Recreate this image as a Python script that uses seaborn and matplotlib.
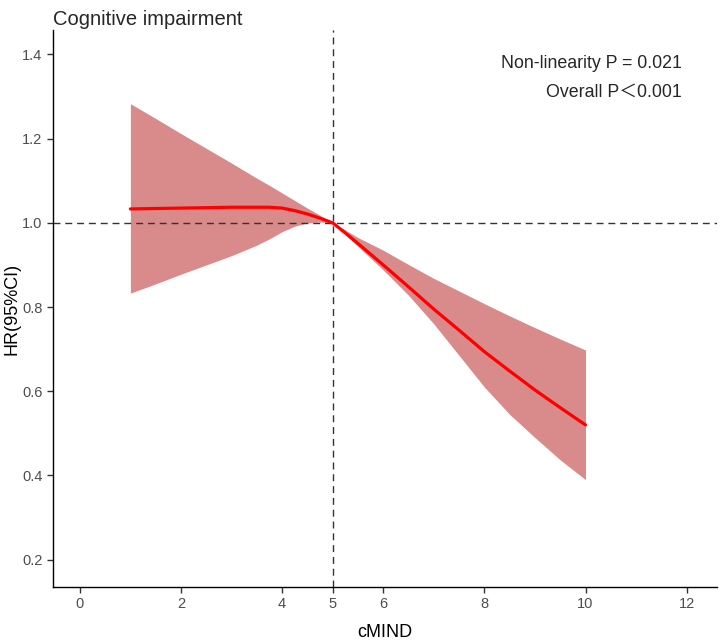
import matplotlib

matplotlib.use("Agg")

import matplotlib.pyplot as plt
import pandas as pd
import seaborn as sns

# restricted cubic spline estimate
cmind = [1.0, 1.5, 2.0, 2.5, 3.0, 3.5, 3.75, 4.0, 4.25, 4.5, 4.75, 5.0,
         5.25, 5.5, 6.0, 6.5, 7.0, 7.5, 8.0, 8.5, 9.0, 9.5, 10.0]
hr = [1.033, 1.034, 1.035, 1.036, 1.037, 1.037, 1.037, 1.035, 1.029, 1.021, 1.011, 1.0,
      0.976, 0.951, 0.9, 0.848, 0.795, 0.745, 0.694, 0.648, 0.603, 0.561, 0.52]
upper = [1.283, 1.248, 1.212, 1.177, 1.142, 1.106, 1.089, 1.071, 1.053, 1.035, 1.018, 1.0,
         0.983, 0.965, 0.935, 0.901, 0.868, 0.838, 0.808, 0.779, 0.751, 0.724, 0.698]
lower = [0.833, 0.855, 0.878, 0.9, 0.922, 0.947, 0.962, 0.979, 0.992, 1.0, 1.002, 1.0,
         0.972, 0.944, 0.888, 0.828, 0.76, 0.685, 0.61, 0.545, 0.49, 0.437, 0.39]

x_ticks = [0, 2, 4, 5, 6, 8, 10, 12]
y_ticks = [0.2, 0.4, 0.6, 0.8, 1.0, 1.2, 1.4]
ref_x = 5
ref_y = 1.0

df = pd.DataFrame({"cMIND": cmind, "HR": hr, "upper": upper, "lower": lower})

sns.set_style("white")
plt.rcParams["font.family"] = ["Liberation Sans", "Noto Sans CJK SC", "DejaVu Sans"]

fig = plt.figure(figsize=(7.23, 6.44), dpi=100)
ax = fig.add_axes([0.0733, 0.0885, 0.9184, 0.8649])

ax.fill_between(df["cMIND"], df["lower"], df["upper"], color="#d98a8a", linewidth=0, zorder=1)
sns.lineplot(data=df, x="cMIND", y="HR", color="#ff0000", linewidth=2.3, ax=ax, zorder=3)

ax.axvline(ref_x, color="#333333", linestyle=(0, (5, 3.5)), linewidth=1.0, zorder=2)
ax.axhline(ref_y, color="#333333", linestyle=(0, (5, 3.5)), linewidth=1.0, zorder=2)

ax.set_xlim(-0.53, 12.6)
ax.set_ylim(0.135, 1.458)
ax.set_xticks(x_ticks)
ax.set_yticks(y_ticks)
ax.set_xticklabels([str(t) for t in x_ticks])
ax.set_yticklabels([f"{t:.1f}" for t in y_ticks])
ax.tick_params(axis="both", direction="out", length=4, width=1, color="#333333",
               labelsize=10.5, labelcolor="#4d4d4d", left=True, bottom=True)

for side in ["top", "right"]:
    ax.spines[side].set_visible(False)
for side in ["left", "bottom"]:
    ax.spines[side].set_color("black")
    ax.spines[side].set_linewidth(1.0)

ax.set_xlabel("cMIND", fontsize=13, color="black")
ax.set_ylabel("HR(95%CI)", fontsize=13, color="black")
ax.xaxis.set_label_coords(0.5, -0.066)
ax.yaxis.set_label_coords(-0.0495, 0.5)

fig.text(0.0733, 0.985, "Cognitive impairment", fontsize=14.5, ha="left", va="top")
ax.text(0.9475, 0.939, "Non-linearity P = 0.021", transform=ax.transAxes,
        fontsize=12.8, ha="right", va="center")
ax.text(0.9475, 0.889, "Overall P\uff1c0.001", transform=ax.transAxes,
        fontsize=12.8, ha="right", va="center")

fig.savefig("out.png", dpi=100)
